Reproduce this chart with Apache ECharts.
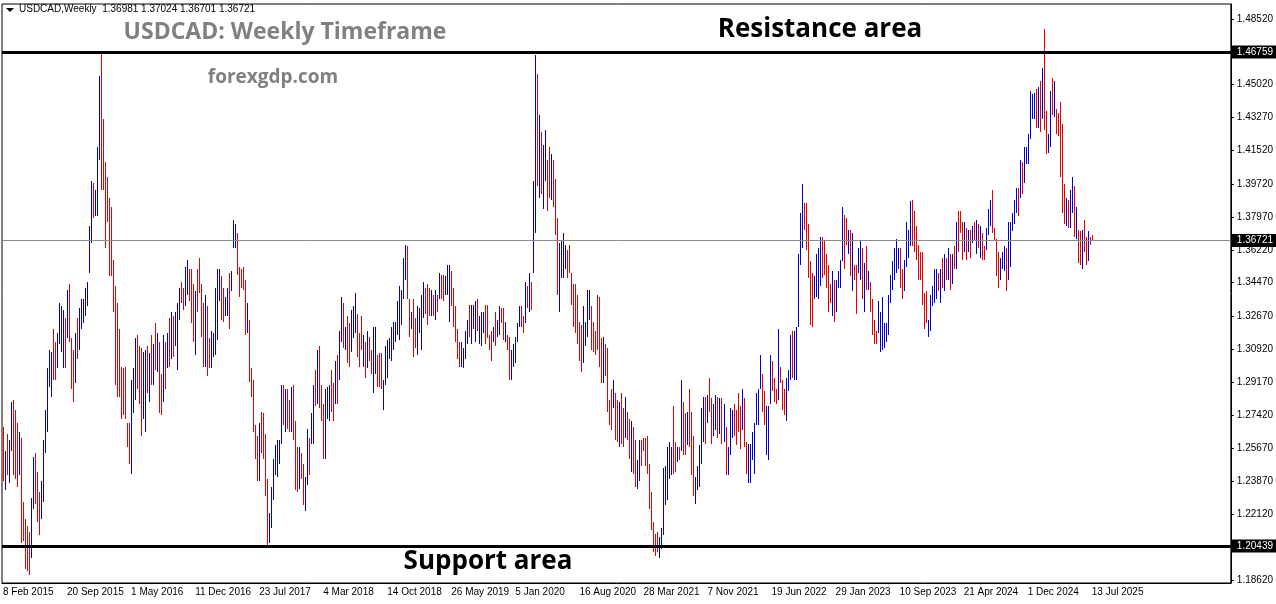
<!DOCTYPE html>
<html><head><meta charset="utf-8">
<script src="https://cdn.jsdelivr.net/npm/echarts@6/dist/echarts.min.js"></script>
<style>html,body{margin:0;padding:0;background:#fff}#c{width:1276px;height:604px}</style>
</head><body><div id="c"></div>
<script>
// weekly [low, high] ranges, 8 Feb 2015 .. 13 Jul 2025
const ranges = [
[1.239,1.268],[1.234,1.255],[1.242,1.264],[1.238,1.261],[1.255,1.281],[1.242,1.282],[1.240,1.277],[1.236,1.270],[1.242,1.265],[1.206,1.262],
[1.207,1.228],[1.192,1.219],[1.191,1.215],[1.189,1.212],[1.198,1.230],[1.224,1.252],[1.227,1.254],[1.217,1.244],[1.210,1.233],[1.219,1.239],
[1.228,1.261],[1.254,1.277],[1.265,1.299],[1.289,1.309],[1.284,1.308],[1.293,1.320],[1.293,1.313],[1.299,1.318],[1.312,1.334],[1.308,1.332],
[1.299,1.330],[1.299,1.326],[1.315,1.341],[1.313,1.344],[1.288,1.315],[1.281,1.309],[1.291,1.318],[1.304,1.326],[1.309,1.331],[1.320,1.336],
[1.323,1.336],[1.327,1.342],[1.332,1.345],[1.350,1.375],[1.366,1.399],[1.379,1.398],[1.380,1.394],[1.380,1.417],[1.410,1.455],[1.394,1.468],
[1.394,1.432],[1.363,1.409],[1.377,1.401],[1.348,1.390],[1.348,1.385],[1.329,1.357],[1.290,1.343],[1.284,1.334],[1.284,1.320],[1.272,1.300],
[1.274,1.299],[1.272,1.300],[1.257,1.270],[1.248,1.270],[1.243,1.293],[1.275,1.299],[1.282,1.315],[1.288,1.317],[1.280,1.311],[1.263,1.310],
[1.272,1.308],[1.265,1.309],[1.286,1.311],[1.281,1.307],[1.290,1.317],[1.290,1.312],[1.298,1.323],[1.297,1.318],[1.275,1.313],[1.274,1.296],
[1.281,1.317],[1.288,1.313],[1.299,1.318],[1.300,1.326],[1.304,1.329],[1.305,1.327],[1.311,1.329],[1.298,1.334],[1.325,1.342],[1.334,1.345],
[1.330,1.342],[1.332,1.353],[1.338,1.357],[1.335,1.352],[1.323,1.352],[1.313,1.344],[1.306,1.340],[1.329,1.352],[1.339,1.358],[1.316,1.344],
[1.300,1.334],[1.300,1.338],[1.295,1.332],[1.299,1.315],[1.299,1.319],[1.305,1.318],[1.306,1.342],[1.314,1.352],[1.335,1.352],[1.325,1.348],
[1.324,1.342],[1.327,1.337],[1.327,1.342],[1.320,1.350],[1.340,1.351],[1.363,1.378],[1.363,1.376],[1.349,1.371],[1.337,1.353],[1.342,1.352],
[1.341,1.353],[1.317,1.346],[1.318,1.334],[1.292,1.325],[1.284,1.299],[1.265,1.293],[1.251,1.269],[1.239,1.263],[1.239,1.270],[1.254,1.276],
[1.251,1.275],[1.231,1.264],[1.204,1.240],[1.206,1.222],[1.214,1.236],[1.229,1.251],[1.242,1.258],[1.241,1.261],[1.248,1.261],[1.259,1.290],
[1.269,1.290],[1.265,1.288],[1.267,1.288],[1.265,1.282],[1.265,1.289],[1.261,1.290],[1.234,1.271],[1.233,1.257],[1.235,1.257],[1.240,1.254],
[1.226,1.248],[1.223,1.241],[1.237,1.267],[1.242,1.262],[1.259,1.275],[1.259,1.290],[1.279,1.298],[1.280,1.309],[1.278,1.311],[1.271,1.290],
[1.251,1.280],[1.251,1.288],[1.272,1.289],[1.271,1.290],[1.276,1.298],[1.271,1.291],[1.280,1.303],[1.280,1.306],[1.293,1.319],[1.313,1.337],
[1.310,1.334],[1.309,1.321],[1.302,1.327],[1.300,1.323],[1.308,1.330],[1.315,1.332],[1.318,1.339],[1.305,1.328],[1.300,1.318],[1.309,1.327],
[1.300,1.317],[1.294,1.313],[1.299,1.319],[1.303,1.316],[1.296,1.309],[1.286,1.321],[1.296,1.321],[1.289,1.306],[1.289,1.307],[1.288,1.307],
[1.277,1.293],[1.290,1.311],[1.294,1.314],[1.304,1.315],[1.303,1.321],[1.309,1.324],[1.313,1.324],[1.317,1.335],[1.314,1.343],[1.322,1.341],
[1.336,1.358],[1.346,1.365],[1.336,1.364],[1.316,1.336],[1.320,1.329],[1.305,1.336],[1.310,1.326],[1.306,1.332],[1.318,1.331],[1.309,1.338],
[1.326,1.345],[1.328,1.342],[1.322,1.344],[1.327,1.342],[1.327,1.341],[1.327,1.338],[1.325,1.341],[1.329,1.338],[1.336,1.350],[1.336,1.349],
[1.335,1.349],[1.338,1.348],[1.338,1.354],[1.324,1.354],[1.332,1.351],[1.321,1.342],[1.313,1.332],[1.304,1.320],[1.300,1.313],[1.300,1.313],
[1.299,1.310],[1.304,1.319],[1.312,1.325],[1.316,1.333],[1.312,1.333],[1.320,1.333],[1.313,1.335],[1.319,1.336],[1.312,1.327],[1.311,1.329],
[1.318,1.329],[1.312,1.333],[1.315,1.333],[1.309,1.317],[1.303,1.319],[1.313,1.321],[1.311,1.329],[1.316,1.325],[1.317,1.332],[1.323,1.331],
[1.314,1.331],[1.313,1.324],[1.309,1.317],[1.293,1.316],[1.293,1.309],[1.300,1.312],[1.302,1.316],[1.313,1.323],[1.321,1.332],[1.321,1.332],
[1.318,1.327],[1.323,1.345],[1.331,1.343],[1.329,1.350],[1.330,1.345],[1.350,1.399],[1.371,1.466],[1.396,1.456],[1.390,1.434],[1.392,1.425],
[1.384,1.418],[1.399,1.426],[1.383,1.410],[1.390,1.417],[1.389,1.413],[1.385,1.410],[1.370,1.400],[1.338,1.379],[1.329,1.366],[1.347,1.367],
[1.347,1.371],[1.352,1.365],[1.347,1.362],[1.350,1.365],[1.333,1.350],[1.321,1.344],[1.318,1.344],[1.312,1.338],[1.303,1.324],[1.297,1.322],
[1.302,1.332],[1.311,1.324],[1.316,1.341],[1.325,1.341],[1.309,1.332],[1.308,1.324],[1.306,1.319],[1.309,1.338],[1.300,1.337],[1.291,1.315],
[1.291,1.316],[1.295,1.312],[1.276,1.310],[1.269,1.282],[1.266,1.288],[1.278,1.293],[1.261,1.286],[1.260,1.282],[1.257,1.281],[1.259,1.286],
[1.257,1.278],[1.262,1.284],[1.261,1.276],[1.251,1.272],[1.244,1.271],[1.243,1.268],[1.236,1.261],[1.235,1.250],[1.239,1.261],[1.247,1.261],
[1.255,1.262],[1.247,1.262],[1.243,1.263],[1.224,1.248],[1.213,1.233],[1.201,1.217],[1.199,1.211],[1.201,1.212],[1.198,1.209],[1.203,1.214],
[1.210,1.246],[1.226,1.247],[1.229,1.257],[1.240,1.260],[1.242,1.257],[1.243,1.279],[1.244,1.260],[1.249,1.257],[1.250,1.257],[1.255,1.293],
[1.253,1.281],[1.253,1.275],[1.258,1.276],[1.257,1.288],[1.242,1.276],[1.231,1.263],[1.227,1.241],[1.234,1.247],[1.236,1.258],[1.248,1.278],
[1.260,1.284],[1.259,1.284],[1.270,1.285],[1.276,1.294],[1.259,1.283],[1.263,1.280],[1.266,1.285],[1.262,1.284],[1.264,1.283],[1.259,1.283],
[1.260,1.280],[1.242,1.268],[1.242,1.257],[1.253,1.278],[1.262,1.277],[1.263,1.280],[1.258,1.277],[1.265,1.286],[1.256,1.279],[1.266,1.288],
[1.257,1.283],[1.243,1.260],[1.238,1.259],[1.238,1.259],[1.250,1.265],[1.243,1.270],[1.269,1.286],[1.269,1.288],[1.288,1.306],[1.276,1.296],
[1.269,1.287],[1.253,1.279],[1.250,1.279],[1.280,1.306],[1.287,1.303],[1.281,1.294],[1.280,1.288],[1.282,1.320],[1.291,1.300],[1.277,1.293],
[1.274,1.288],[1.271,1.294],[1.287,1.298],[1.293,1.317],[1.294,1.319],[1.293,1.319],[1.293,1.321],[1.321,1.360],[1.354,1.382],[1.363,1.397],
[1.373,1.387],[1.362,1.387],[1.347,1.376],[1.322,1.356],[1.321,1.350],[1.336,1.348],[1.337,1.360],[1.336,1.363],[1.343,1.369],[1.347,1.369],
[1.349,1.367],[1.342,1.360],[1.329,1.354],[1.334,1.344],[1.327,1.351],[1.324,1.346],[1.329,1.346],[1.342,1.351],[1.342,1.357],[1.356,1.385],
[1.352,1.381],[1.365,1.379],[1.360,1.373],[1.348,1.373],[1.340,1.371],[1.346,1.354],[1.328,1.354],[1.350,1.363],[1.346,1.367],[1.336,1.363],
[1.329,1.355],[1.341,1.364],[1.341,1.351],[1.329,1.345],[1.317,1.336],[1.312,1.325],[1.312,1.319],[1.318,1.335],[1.308,1.329],[1.309,1.337],
[1.310,1.323],[1.313,1.323],[1.317,1.338],[1.334,1.349],[1.341,1.356],[1.346,1.363],[1.350,1.368],[1.352,1.363],[1.342,1.363],[1.336,1.352],
[1.340,1.357],[1.353,1.377],[1.358,1.373],[1.364,1.388],[1.364,1.389],[1.361,1.383],[1.357,1.375],[1.346,1.365],[1.346,1.361],[1.333,1.361],
[1.320,1.339],[1.323,1.340],[1.316,1.325],[1.319,1.338],[1.332,1.343],[1.334,1.352],[1.336,1.352],[1.340,1.350],[1.334,1.352],[1.342,1.358],
[1.340,1.360],[1.346,1.358],[1.346,1.363],[1.341,1.360],[1.344,1.360],[1.352,1.364],[1.352,1.377],[1.361,1.383],[1.371,1.383],[1.357,1.377],
[1.361,1.377],[1.357,1.374],[1.361,1.373],[1.358,1.373],[1.366,1.375],[1.367,1.377],[1.360,1.378],[1.363,1.376],[1.358,1.375],[1.357,1.371],
[1.357,1.364],[1.362,1.374],[1.370,1.384],[1.375,1.389],[1.371,1.394],[1.367,1.374],[1.348,1.368],[1.342,1.361],[1.346,1.358],[1.352,1.361],
[1.351,1.364],[1.340,1.363],[1.346,1.377],[1.353,1.377],[1.372,1.382],[1.376,1.389],[1.382,1.395],[1.380,1.395],[1.390,1.410],[1.392,1.409],
[1.398,1.417],[1.408,1.417],[1.408,1.424],[1.421,1.447],[1.432,1.445],[1.432,1.446],[1.427,1.448],[1.427,1.449],[1.425,1.452],[1.432,1.459],
[1.426,1.480],[1.413,1.436],[1.414,1.424],[1.417,1.447],[1.434,1.454],[1.433,1.452],[1.424,1.437],[1.423,1.435],[1.401,1.441],[1.382,1.429],
[1.376,1.397],[1.375,1.390],[1.374,1.389],[1.374,1.394],[1.382,1.401],[1.369,1.396],[1.368,1.385],[1.355,1.373],[1.354,1.372],[1.352,1.373],
[1.361,1.378],[1.354,1.369],[1.356,1.372],[1.365,1.369],[1.367,1.3702]
];
const dirs = [
"RBRBBRRRBR","RRRRBBRRRB","BBBBBRRBBB","BRBRRRBRBB","BBBBBRBBBR","RRRRRRRRRR","RRRRBBBRRR","BBRBRBRBRR","BRBRBRBBBR","RBBRRRBRRR",
"RBRRBBBBBR","RBBRBBBRRR","RRBRRRRRBR","RRRBBBBBBB","RBRRBRRRBR","RBBRBBRBRR","RBBBRRBRBB","RBRRBBBRRR","BRBRRBBRRR","BBBBBBBBBB",
"BBRRBRRBBB","BRRRBRBRBR","RBBBRRRRRB","BBBRBBBRBB","BRRRRBRBBR","RBRRBBBBBR","RBRBRBBRBR","BBRRBRRRBB","BBRRRRRRRR","BBBBRRRRRR",
"BRRRRBRRBR","RBRRBRRBBR","RRRRRRRRBB","BBBBBRRBRB","RRBRRRBBBB","BRBRRBBRBR","BRBBBRRRRB","RRBBBBBBBR","RBBBRRRBRR","RBBBRBBBBB",
"RRRRRBBBBR","RRRRBRBBBB","RRBRBRRBBR","BRBRRRRBBB","BBBBBBBBRR","BBBBRRRRRR","RRBBBBBRBR","BRBRBRBRRR","BRBRBRBRBR","RBBBRRRRBB",
"BRBBBBBRBR","BBBBBBRBRB","RRBBRBRRRR","RBRBBRBRRB","RRBRR"
].join("");
const yTickValues = [1.48520,1.45020,1.43270,1.41520,1.39720,1.37970,1.36220,1.34470,1.32670,1.30920,1.29170,1.27420,1.25670,1.23870,1.22120,1.18620];
const resistance = 1.46759, support = 1.20439, lastPrice = 1.36721;
const header = "USDCAD,Weekly  1.36981 1.37024 1.36701 1.36721";
const months = ["Jan","Feb","Mar","Apr","May","Jun","Jul","Aug","Sep","Oct","Nov","Dec"];
const TOTAL = 614;
const dates = [];
for (let i = 0; i < TOTAL; i++) {
  const d = new Date(Date.UTC(2015, 1, 8) + i * 7 * 86400000);
  dates.push(d.getUTCDate() + " " + months[d.getUTCMonth()] + " " + d.getUTCFullYear());
}
const data = ranges.map((r, i) => [i, r[0], r[1], dirs[i] === 'B' ? 1 : 0]);
const chart = echarts.init(document.getElementById('c'));
const F = '"Liberation Sans"';
chart.setOption({
  animation: false,
  grid: {left: 2, right: 45, top: 4, bottom: 21, show: true, borderColor: '#000', borderWidth: 1},
  xAxis: {
    type: 'category', data: dates, boundaryGap: true,
    axisLine: {lineStyle: {color: '#000'}},
    axisTick: {alignWithLabel: true, length: 4, lineStyle: {color: '#000'}, interval: i => i % 32 === 0 && i <= 544},
    axisLabel: {interval: i => i % 32 === 0 && i <= 544, align: 'left', margin: 4, fontFamily: F, fontSize: 10, color: '#000'},
    splitLine: {show: false}
  },
  yAxis: {
    type: 'value', position: 'right', min: 1.18469, max: 1.49316,
    axisLine: {show: true, lineStyle: {color: '#000'}},
    axisTick: {show: true, customValues: yTickValues, length: 3, inside: false, lineStyle: {color: '#000'}},
    axisLabel: {customValues: yTickValues, formatter: v => v.toFixed(5), fontFamily: F, fontSize: 10, color: '#000', margin: 6},
    splitLine: {show: false}
  },
  series: [{
    type: 'custom', data: data, clip: true,
    encode: {x: 0, y: [1, 2]},
    renderItem: (params, api) => {
      const p1 = api.coord([api.value(0), api.value(1)]);
      const p2 = api.coord([api.value(0), api.value(2)]);
      const x = Math.round(p1[0]) + 0.5;
      return {type: 'line', shape: {x1: x, y1: Math.round(p1[1]), x2: x, y2: Math.round(p2[1])},
        style: {stroke: api.value(3) ? '#0000d0' : '#e80000', lineWidth: 1}};
    },
    markLine: {
      symbol: 'none', silent: true, precision: 5,
      data: [
        {yAxis: resistance, name: '1.46759', lineStyle: {color: '#000', width: 3, type: 'solid'}},
        {yAxis: support, name: '1.20439', lineStyle: {color: '#000', width: 3, type: 'solid'}},
        {yAxis: lastPrice, name: '1.36721', lineStyle: {color: '#8a8a8a', width: 1, type: 'solid'}}
      ],
      label: {show: true, position: 'end', formatter: p => p.name, backgroundColor: '#000', color: '#fff',
        fontFamily: F, fontSize: 10, padding: [2, 4, 1, 5], distance: 1}
    }
  }],
  graphic: [
    {type: 'polygon', shape: {points: [[6, 8], [14, 8], [10, 12]]}, style: {fill: '#000'}},
    {type: 'text', left: 19, top: 4, style: {text: header, font: '10px ' + F, fill: '#000'}},
    {type: 'text', x: 285, y: 32, style: {text: 'USDCAD: Weekly Timeframe', font: 'bold 23px "Open Sans"', fill: '#808080', align: 'center', verticalAlign: 'middle'}},
    {type: 'text', x: 273, y: 78, style: {text: 'forexgdp.com', font: 'bold 19px "Open Sans"', fill: '#808080', align: 'center', verticalAlign: 'middle'}},
    {type: 'text', x: 820, y: 30, style: {text: 'Resistance area', font: 'bold 26px "Open Sans"', fill: '#000', align: 'center', verticalAlign: 'middle'}},
    {type: 'text', x: 488, y: 562, style: {text: 'Support area', font: 'bold 26px "Open Sans"', fill: '#000', align: 'center', verticalAlign: 'middle'}}
  ]
});
</script></body></html>
